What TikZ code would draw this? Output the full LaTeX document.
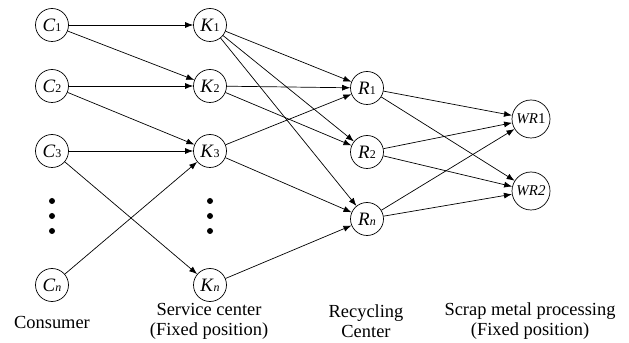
\documentclass[tikz,border=0pt]{standalone}
\usepackage{fontspec}
\setmainfont{Liberation Serif}
\usetikzlibrary{arrows.meta}
\newcommand{\idx}[1]{{\fontsize{12}{12}\selectfont #1}}
\begin{document}
\begin{tikzpicture}[>={Latex[length=8bp,width=6bp]},line width=0.7bp,
  site/.style={circle,draw,inner sep=0pt,minimum size=33bp,font=\fontsize{19}{19}\selectfont},
  plant/.style={circle,draw,inner sep=0pt,minimum size=38bp,font=\fontsize{15}{15}\selectfont},
  tag/.style={align=center,font=\fontsize{18.5}{20}\selectfont},
  dot/.style={circle,fill,inner sep=0pt,minimum size=6bp}]
\useasboundingbox (0bp,0bp) rectangle (629bp,343bp);
%%
\node (C1) at (52bp,318bp) [site] {\textit{C}\idx{1}};
  \node (C2) at (52bp,257bp) [site] {\textit{C}\idx{2}};
  \node (C3) at (52bp,192bp) [site] {\textit{C}\idx{3}};
  \node (Cn) at (52bp,58bp) [site] {\textit{C}\idx{\textit{n}}};
  \node (K1) at (210bp,318bp) [site] {\textit{K}\idx{1}};
  \node (K2) at (210bp,257bp) [site] {\textit{K}\idx{2}};
  \node (K3) at (210bp,192bp) [site] {\textit{K}\idx{3}};
  \node (Kn) at (210bp,58bp) [site] {\textit{K}\idx{\textit{n}}};
  \node (R1) at (367bp,255bp) [site] {\textit{R}\idx{1}};
  \node (R2) at (367bp,191bp) [site] {\textit{R}\idx{2}};
  \node (Rn) at (367bp,124bp) [site] {\textit{R}\idx{\textit{n}}};
  \node (WR1) at (531bp,224bp) [plant] {\textit{WR}1};
  \node (WR2) at (531bp,152bp) [plant] {\textit{WR2}};
%
  \node (cdot1) at (52bp,142bp) [dot] {};
  \node (cdot2) at (52bp,127bp) [dot] {};
  \node (cdot3) at (52bp,112bp) [dot] {};
  \node (kdot1) at (210bp,142bp) [dot] {};
  \node (kdot2) at (210bp,127bp) [dot] {};
  \node (kdot3) at (210bp,112bp) [dot] {};
%
  \node (consumer) at (52bp,21bp) [tag] {Consumer};
  \node (service) at (209bp,22bp) [tag] {Service center\\(Fixed position)};
  \node (recycling) at (366bp,22bp) [tag] {Recycling\\Center};
  \node (scrap) at (530bp,22bp) [tag] {Scrap metal processing\\(Fixed position)};
%
  \draw [->] (C1) -- (K1);
  \draw [->] (C1) -- (K2);
  \draw [->] (C2) -- (K2);
  \draw [->] (C2) -- (K3);
  \draw [->] (C3) -- (K3);
  \draw [->] (C3) -- (Kn);
  \draw [->] (Cn) -- (K3);
  \draw [->] (K1) -- (R1);
  \draw [->] (K1) -- (R2);
  \draw [->] (K1) -- (Rn);
  \draw [->] (K2) -- (R1);
  \draw [->] (K2) -- (R2);
  \draw [->] (K3) -- (R1);
  \draw [->] (K3) -- (Rn);
  \draw [->] (Kn) -- (Rn);
  \draw [->] (R1) -- (WR1);
  \draw [->] (R1) -- (WR2);
  \draw [->] (R2) -- (WR1);
  \draw [->] (R2) -- (WR2);
  \draw [->] (Rn) -- (WR1);
  \draw [->] (Rn) -- (WR2);
%
\end{tikzpicture}
\end{document}
